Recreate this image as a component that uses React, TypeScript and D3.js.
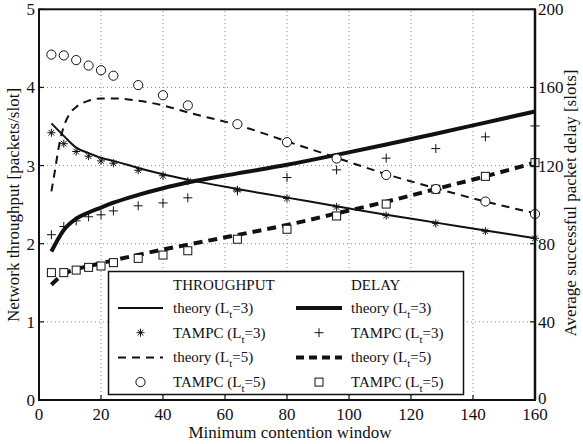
import React, { useRef, useEffect } from "react";
import * as d3 from "d3";

// minimum contention window values
const cw = [4, 8, 12, 16, 20, 24, 32, 40, 48, 64, 80, 96, 112, 128, 144, 160];
// throughput theory for Lt=5 has a steep start, so it is sampled a bit finer
const cwFine = [4, 5, 6, 7, 8, 10, 12, 16, 20, 24, 32, 40, 48, 64, 80, 96, 112, 128, 144, 160];

// throughput [packets/slot]
const thrTheory3 = [3.54, 3.38, 3.23, 3.16, 3.1, 3.06, 2.97, 2.89, 2.82, 2.7, 2.59, 2.48, 2.37, 2.27, 2.17, 2.07];
const thrSim3 = [3.42, 3.28, 3.18, 3.12, 3.06, 3.03, 2.94, 2.87, 2.8, 2.69, 2.58, 2.47, 2.36, 2.26, 2.16, 2.07];
const thrTheory5 = [2.67, 2.9, 3.15, 3.36, 3.5, 3.67, 3.75, 3.83, 3.86, 3.86, 3.83, 3.77, 3.68, 3.52, 3.31, 3.1, 2.89, 2.71, 2.54, 2.39];
const thrSim5 = [4.42, 4.41, 4.35, 4.28, 4.22, 4.15, 4.03, 3.9, 3.77, 3.53, 3.3, 3.09, 2.88, 2.7, 2.54, 2.38];

// delay [slots]
const delayTheory3 = [76, 87, 92.8, 96, 98.5, 101, 105, 108.4, 111.3, 116, 120.4, 125.5, 130.8, 136.3, 142, 147.7];
const delaySim3 = [84.6, 88.8, 91.7, 93.8, 94.8, 96.8, 99.4, 100.9, 103.5, 107, 113.9, 117.8, 123.8, 128.7, 134.7, 140.3];
const delayTheory5 = [59, 64.5, 67, 68.5, 70, 71.5, 74.3, 77, 79.5, 84.5, 89.6, 95.5, 101.5, 108, 114.5, 121.5];
const delaySim5 = [65.2, 65.2, 66.5, 67.9, 68.6, 70.3, 72.5, 74.2, 76.4, 82.3, 87.4, 94.2, 100.3, 107.9, 114.5, 121.5];

const xTicks = [0, 20, 40, 60, 80, 100, 120, 140, 160];
const leftTicks = [0, 1, 2, 3, 4, 5];
const rightTicks = [0, 40, 80, 120, 160, 200];

const FONT = "'Liberation Serif', 'DejaVu Serif', serif";

const App = () => {
  const ref = useRef<SVGSVGElement>(null);

  useEffect(() => {
    const svg = d3.select(ref.current);
    svg.selectAll("*").remove();

    const x = d3.scaleLinear().domain([0, 160]).range([39, 535]);
    const yL = d3.scaleLinear().domain([0, 5]).range([400, 9.3]);
    const yR = d3.scaleLinear().domain([0, 200]).range([400, 9.3]);

    svg.append("rect").attr("width", 583).attr("height", 444).attr("fill", "#fff");

    // dotted grid
    const grid = svg.append("g").attr("stroke", "#8a8a8a").attr("stroke-width", 1).attr("stroke-dasharray", "1,3");
    xTicks.slice(1, -1).forEach((t) => {
      grid.append("line").attr("x1", x(t)).attr("x2", x(t)).attr("y1", yL(0)).attr("y2", yL(5));
    });
    leftTicks.slice(1, -1).forEach((t) => {
      grid.append("line").attr("x1", x(0)).attr("x2", x(160)).attr("y1", yL(t)).attr("y2", yL(t));
    });

    const lineL = (xs: number[]) =>
      d3.line<number>().x((d, i) => x(xs[i])).y((d) => yL(d)).curve(d3.curveMonotoneX);
    const lineR = (xs: number[]) =>
      d3.line<number>().x((d, i) => x(xs[i])).y((d) => yR(d)).curve(d3.curveMonotoneX);

    const drawLine = (path: string | null, width: number, dash: string | null) => {
      svg
        .append("path")
        .attr("d", path)
        .attr("fill", "none")
        .attr("stroke", "#111")
        .attr("stroke-width", width)
        .attr("stroke-dasharray", dash);
    };

    drawLine(lineL(cw)(thrTheory3), 2, null);
    drawLine(lineL(cwFine)(thrTheory5), 2, "8,6");
    drawLine(lineR(cw)(delayTheory3), 4, null);
    drawLine(lineR(cw)(delayTheory5), 4, "9,6");

    // marker shapes
    const marker = (g: any, kind: string, cx: number, cy: number) => {
      if (kind === "circle") {
        g.append("circle").attr("cx", cx).attr("cy", cy).attr("r", 4.6)
          .attr("fill", "#fff").attr("stroke", "#111").attr("stroke-width", 1);
      } else if (kind === "square") {
        g.append("rect").attr("x", cx - 4).attr("y", cy - 4).attr("width", 8).attr("height", 8)
          .attr("fill", "#fff").attr("stroke", "#111").attr("stroke-width", 1);
      } else if (kind === "plus") {
        g.append("path").attr("d", `M${cx - 4.5},${cy}H${cx + 4.5}M${cx},${cy - 4.5}V${cy + 4.5}`)
          .attr("stroke", "#111").attr("stroke-width", 1);
      } else {
        const r = 4;
        const d = r * 0.7;
        g.append("path")
          .attr("d", `M${cx - r},${cy}H${cx + r}M${cx},${cy - r}V${cy + r}M${cx - d},${cy - d}L${cx + d},${cy + d}M${cx - d},${cy + d}L${cx + d},${cy - d}`)
          .attr("stroke", "#111").attr("stroke-width", 1);
      }
    };

    const marks = svg.append("g");
    cw.forEach((c, i) => marker(marks, "star", x(c), yL(thrSim3[i])));
    cw.forEach((c, i) => marker(marks, "plus", x(c), yR(delaySim3[i])));
    cw.forEach((c, i) => marker(marks, "square", x(c), yR(delaySim5[i])));
    cw.forEach((c, i) => marker(marks, "circle", x(c), yL(thrSim5[i])));

    // legend
    const lg = svg.append("g").attr("font-family", FONT).attr("font-size", 15).attr("fill", "#111");
    lg.append("rect").attr("x", 108.5).attr("y", 271.5).attr("width", 355).attr("height", 123)
      .attr("fill", "#fff").attr("stroke", "#111").attr("stroke-width", 1.5);
    lg.append("text").attr("x", 173).attr("y", 290).text("THROUGHPUT");
    lg.append("text").attr("x", 351).attr("y", 290).text("DELAY");

    const rows = [
      { label: "theory", lt: 3, col1: { w: 2, dash: null, m: null }, col2: { w: 4, dash: null, m: null } },
      { label: "TAMPC", lt: 3, col1: { w: 0, dash: null, m: "star" }, col2: { w: 0, dash: null, m: "plus" } },
      { label: "theory", lt: 5, col1: { w: 2, dash: "8,6", m: null }, col2: { w: 4, dash: "8,5", m: null } },
      { label: "TAMPC", lt: 5, col1: { w: 0, dash: null, m: "circle" }, col2: { w: 0, dash: null, m: "square" } },
    ];
    rows.forEach((r, i) => {
      const cy = 308 + i * 24.7;
      [
        { s: r.col1, x0: 118, x1: 163, tx: 173 },
        { s: r.col2, x0: 296, x1: 342, tx: 351 },
      ].forEach((c) => {
        if (c.s.m) {
          marker(lg, c.s.m, (c.x0 + c.x1) / 2, cy);
        } else {
          lg.append("line").attr("x1", c.x0).attr("x2", c.x1).attr("y1", cy).attr("y2", cy)
            .attr("stroke", "#111").attr("stroke-width", c.s.w).attr("stroke-dasharray", c.s.dash);
        }
        const t = lg.append("text").attr("x", c.tx).attr("y", cy + 5);
        t.append("tspan").text(`${r.label} (L`);
        t.append("tspan").attr("font-size", 11).attr("dy", 5).text("t");
        t.append("tspan").attr("dy", -5).text(`=${r.lt})`);
      });
    });

    // axes box
    svg.append("rect").attr("x", x(0)).attr("y", yL(5)).attr("width", x(160) - x(0)).attr("height", yL(0) - yL(5))
      .attr("fill", "none").attr("stroke", "#111").attr("stroke-width", 2);
    svg.append("line").attr("x1", x(160)).attr("x2", x(160)).attr("y1", yL(0)).attr("y2", yL(5))
      .attr("stroke", "#111").attr("stroke-width", 2.5);

    const ticks = svg.append("g").attr("stroke", "#111").attr("stroke-width", 1.2);
    xTicks.forEach((t) => ticks.append("line").attr("x1", x(t)).attr("x2", x(t)).attr("y1", yL(0)).attr("y2", yL(0) - 5));
    leftTicks.forEach((t) => ticks.append("line").attr("x1", x(0)).attr("x2", x(0) + 5).attr("y1", yL(t)).attr("y2", yL(t)));
    rightTicks.forEach((t) => ticks.append("line").attr("x1", x(160) - 5).attr("x2", x(160)).attr("y1", yR(t)).attr("y2", yR(t)));

    const labels = svg.append("g").attr("font-family", FONT).attr("font-size", 17).attr("fill", "#111");
    xTicks.forEach((t) =>
      labels.append("text").attr("x", x(t)).attr("y", 420).attr("text-anchor", "middle").text(t)
    );
    leftTicks.forEach((t) =>
      labels.append("text").attr("x", 35).attr("y", yL(t)).attr("dy", "0.35em").attr("text-anchor", "end").text(t)
    );
    rightTicks.forEach((t) =>
      labels.append("text").attr("x", 538).attr("y", yR(t) - (t === 0 ? 2 : 0)).attr("dy", "0.35em").text(t)
    );

    labels.append("text").attr("x", 290).attr("y", 438).attr("text-anchor", "middle").text("Minimum contention window");
    labels.append("text").attr("transform", "translate(13,205) rotate(-90)").attr("dy", "0.35em")
      .attr("text-anchor", "middle").text("Network throughput [packets/slot]");
    labels.append("text").attr("transform", "translate(570,203) rotate(-90)").attr("dy", "0.35em")
      .attr("text-anchor", "middle").text("Average successful packet delay [slots]");

    return () => {
      svg.selectAll("*").remove();
    };
  }, []);

  return (
    <svg
      ref={ref}
      width={583}
      height={444}
      style={{ position: "absolute", left: 0, top: 0, display: "block" }}
    />
  );
};

export default App;
